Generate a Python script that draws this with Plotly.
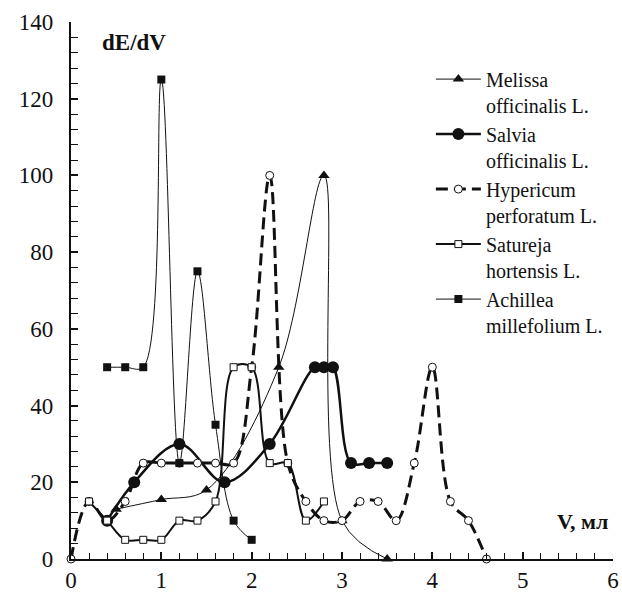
import plotly.graph_objects as go

# ---- data ----
melissa_x = [0.5, 1.0, 1.5, 2.3, 2.8, 3.0, 3.5]
melissa_y = [13, 15.5, 18, 50, 100, 10, 0]

salvia_x = [0.4, 0.7, 1.2, 1.7, 2.2, 2.7, 2.8, 2.9, 3.1, 3.3, 3.5]
salvia_y = [10, 20, 30, 20, 30, 50, 50, 50, 25, 25, 25]

hyper_x = [0, 0.2, 0.4, 0.6, 0.8, 1.0, 1.2, 1.4, 1.6, 1.8, 2.0, 2.2, 2.4, 2.6,
           2.8, 3.0, 3.2, 3.4, 3.6, 3.8, 4.0, 4.2, 4.4, 4.6]
hyper_y = [0, 15, 10, 15, 25, 25, 25, 25, 25, 25, 50, 100, 25, 15,
           10, 10, 15, 15, 10, 25, 50, 15, 10, 0]

satur_x = [0.2, 0.4, 0.6, 0.8, 1.0, 1.2, 1.4, 1.6, 1.8, 2.0, 2.2, 2.4, 2.6, 2.8]
satur_y = [15, 10, 5, 5, 5, 10, 10, 15, 50, 50, 25, 25, 10, 15]

achil_x = [0.4, 0.6, 0.8, 1.0, 1.2, 1.4, 1.6, 1.8, 2.0]
achil_y = [50, 50, 50, 125, 25, 75, 35, 10, 5]

names = ["Melissa<br>officinalis L.", "Salvia<br>officinalis L.",
         "Hypericum<br>perforatum L.", "Satureja<br>hortensis L.",
         "Achillea<br>millefolium L."]

x_ticks = [0, 1, 2, 3, 4, 5, 6]
y_ticks = [0, 20, 40, 60, 80, 100, 120, 140]

FONT = "Liberation Serif"
BLACK = "#111111"
PAD = "<span style='color:rgba(0,0,0,0)'>0</span>"

fig = go.Figure()

fig.add_trace(go.Scatter(
    x=melissa_x, y=melissa_y, name=names[0], mode="lines+markers",
    line=dict(color=BLACK, width=1, shape="spline", smoothing=1),
    marker=dict(symbol="triangle-up", size=10, color=BLACK),
    cliponaxis=False))

fig.add_trace(go.Scatter(
    x=salvia_x, y=salvia_y, name=names[1], mode="lines+markers",
    line=dict(color=BLACK, width=2.5, shape="spline", smoothing=1),
    marker=dict(symbol="circle", size=12, color=BLACK),
    cliponaxis=False))

fig.add_trace(go.Scatter(
    x=hyper_x, y=hyper_y, name=names[2], mode="lines+markers",
    line=dict(color=BLACK, width=3, shape="spline", smoothing=1, dash="12px,6px"),
    marker=dict(symbol="circle", size=8, color="white",
                line=dict(color=BLACK, width=1)),
    cliponaxis=False))

fig.add_trace(go.Scatter(
    x=satur_x, y=satur_y, name=names[3], mode="lines+markers",
    line=dict(color=BLACK, width=2, shape="spline", smoothing=1),
    marker=dict(symbol="square", size=7, color="white",
                line=dict(color=BLACK, width=1)),
    cliponaxis=False))

fig.add_trace(go.Scatter(
    x=achil_x, y=achil_y, name=names[4], mode="lines+markers",
    line=dict(color=BLACK, width=1, shape="spline", smoothing=1),
    marker=dict(symbol="square", size=8, color=BLACK),
    cliponaxis=False))

axis_common = dict(showline=True, linecolor=BLACK, linewidth=1.5,
                   showgrid=False, zeroline=False, automargin=False,
                   ticks="inside", ticklen=7, tickcolor=BLACK, tickwidth=1.5,
                   tickfont=dict(family=FONT, size=23, color=BLACK))

fig.update_layout(
    template="none",
    width=622, height=610,
    margin=dict(l=71, r=9, t=22, b=51, autoexpand=False),
    paper_bgcolor="white", plot_bgcolor="white",
    font=dict(family=FONT, color=BLACK, size=22),
    showlegend=True,
    legend=dict(x=0.664, y=0.93, xanchor="left", yanchor="top",
                bgcolor="rgba(0,0,0,0)", borderwidth=0,
                font=dict(family=FONT, size=20, color=BLACK),
                valign="top", itemwidth=45, tracegroupgap=0),
    xaxis=dict(range=[0, 6], tickvals=x_ticks, ticktext=[str(v) for v in x_ticks],
               minor=dict(dtick=0.2, ticks="inside", ticklen=6, tickcolor=BLACK,
                          tickwidth=1, showgrid=False),
               **axis_common),
    yaxis=dict(range=[0, 140], tickvals=y_ticks,
               ticktext=[str(v) + PAD for v in y_ticks],
               minor=dict(dtick=4, ticks="inside", ticklen=7, tickcolor=BLACK,
                          tickwidth=1, showgrid=False),
               **axis_common),
    annotations=[
        dict(text="<b>dE/dV</b>", xref="paper", yref="paper", x=0.053, y=0.962,
             xanchor="left", yanchor="middle", showarrow=False,
             font=dict(family=FONT, size=23, color=BLACK)),
        dict(text="<b>V, мл</b>", xref="paper", yref="paper", x=0.994, y=0.069,
             xanchor="right", yanchor="middle", showarrow=False,
             font=dict(family=FONT, size=22, color=BLACK)),
    ],
)

fig.write_html("out.html")
